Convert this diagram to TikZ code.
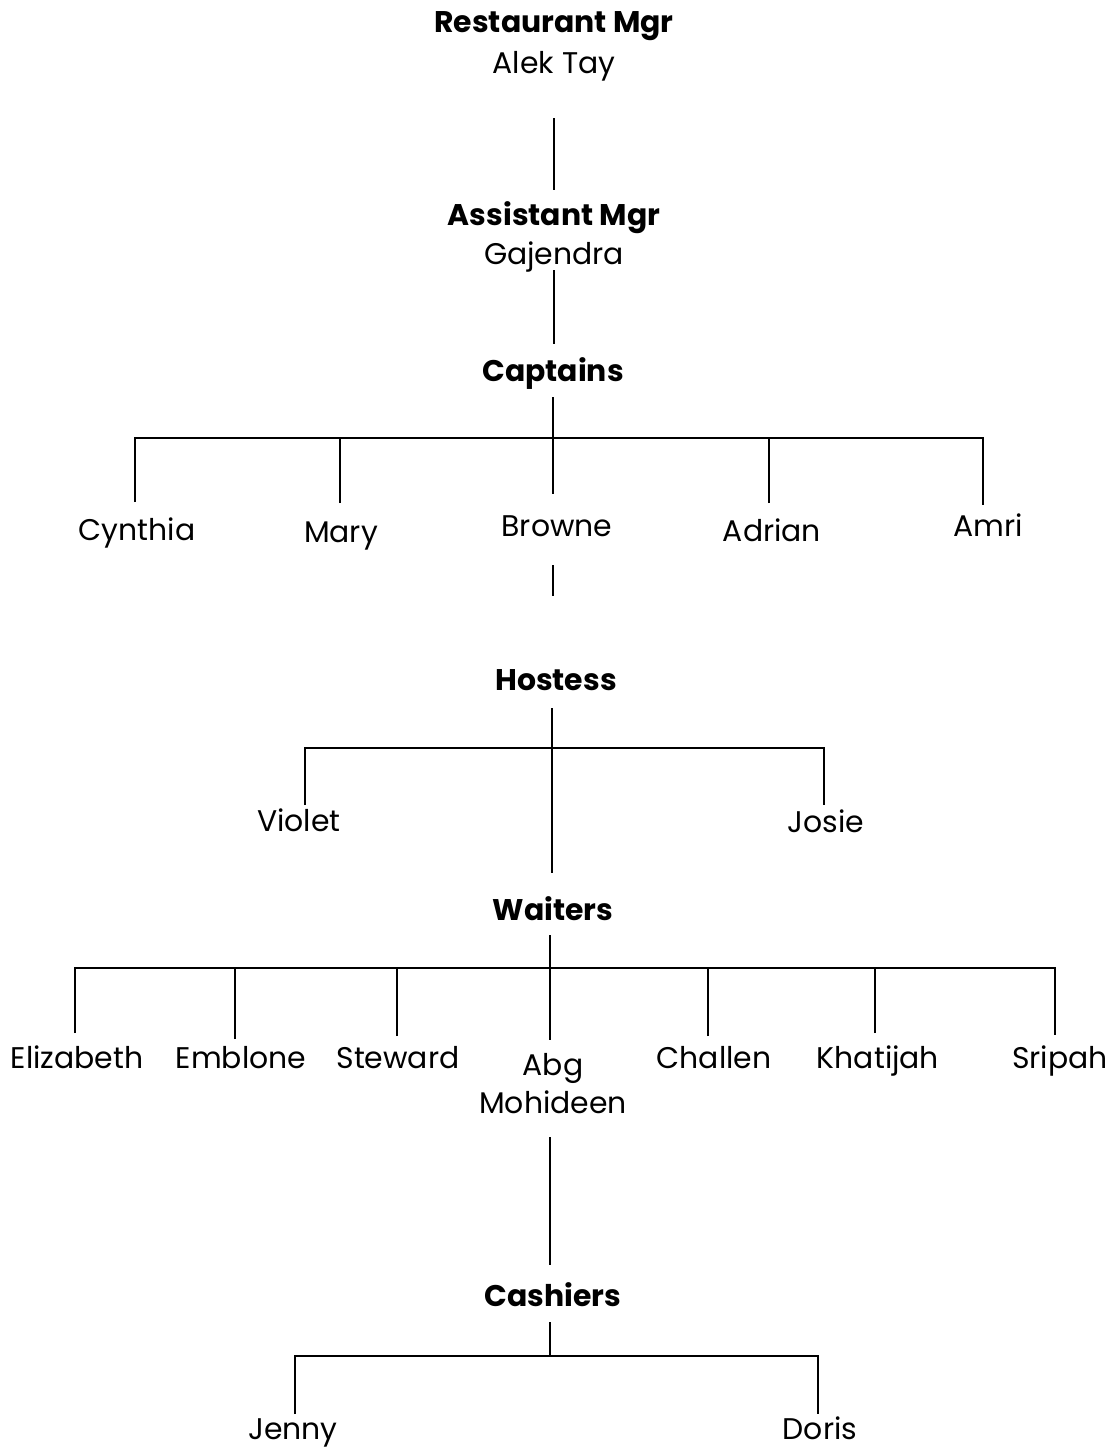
\documentclass[tikz,border=0pt]{standalone}
\usepackage{fontspec}
\setmainfont{Poppins}
\usetikzlibrary{calc}

\begin{document}
\begin{tikzpicture}[x=0.02cm, y=-0.02cm, line width=1.6pt,
  every node/.style={inner sep=0pt, anchor=base, font=\fontsize{17}{20}\selectfont},
  head/.style={font=\fontsize{17}{20}\selectfont\bfseries}]
\useasboundingbox (0,0) rectangle (1119,1447);

\node[head] (rmgr) at (554,32) {Restaurant Mgr};
\node (alek) at (554,73) {Alek Tay};
\node[head] (amgr) at (554,225) {Assistant Mgr};
\node (gaj) at (554,264) {Gajendra};
\node[head] (capt) at (553,381) {Captains};
\node (cynthia) at (137,540) {Cynthia};
\node (mary) at (341,542) {Mary};
\node (browne) at (557,536) {Browne};
\node (adrian) at (772,541) {Adrian};
\node (amri) at (988,536) {Amri};
\node[head] (host) at (556,690) {Hostess};
\node (violet) at (299,831) {Violet};
\node (josie) at (826,832) {Josie};
\node[head] (wait) at (553,920) {Waiters};
\node (eliz) at (77,1068) {Elizabeth};
\node (emb) at (241,1068) {Emblone};
\node (stew) at (398,1068) {Steward};
\node (abg) at (553,1075) {Abg};
\node (moh) at (553,1113) {Mohideen};
\node (chal) at (714,1068) {Challen};
\node (khat) at (878,1068) {Khatijah};
\node (srip) at (1060,1068) {Sripah};
\node[head] (cash) at (553,1306) {Cashiers};
\node (jenny) at (293,1439) {Jenny};
\node (doris) at (820,1439) {Doris};

\coordinate (captbar) at (553,438);
\coordinate (hostbar) at (552,748);
\coordinate (waitbar) at (550,968);
\coordinate (cashbar) at (550,1356);

% managers
\draw ($(alek.base)+(0,45)$) -- ($(amgr.base)+(0,-35)$);
\draw ($(gaj.base)+(0,6)$) -- ($(capt.base)+(1,-37)$);

% captains
\draw ($(capt.base)+(0,16)$) -- ($(browne.base)+(-4,-42)$);
\draw ($(cynthia.base)+(-2,-38)$) |- (captbar) -| ($(amri.base)+(-5,-31)$);
\draw ($(mary.base)+(-1,-39)$) |- (captbar);
\draw ($(adrian.base)+(-3,-38)$) |- (captbar);
\draw ($(browne.base)+(-4,29)$) -- ($(host.base)+(-3,-94)$);

% hostess
\draw ($(host.base)+(-4,18)$) -- ($(wait.base)+(-1,-47)$);
\draw ($(violet.base)+(6,-26)$) |- (hostbar) -| ($(josie.base)+(-2,-27)$);

% waiters
\draw ($(wait.base)+(-3,15)$) -- ($(abg.base)+(-3,-35)$);
\draw ($(eliz.base)+(-2,-35)$) |- (waitbar) -| ($(srip.base)+(-5,-33)$);
\draw ($(emb.base)+(-6,-29)$) |- (waitbar);
\draw ($(stew.base)+(-1,-32)$) |- (waitbar);
\draw ($(chal.base)+(-6,-32)$) |- (waitbar);
\draw ($(khat.base)+(-3,-35)$) |- (waitbar);
\draw ($(moh.base)+(-3,24)$) -- ($(cash.base)+(-3,-41)$);

% cashiers
\draw ($(cash.base)+(-3,16)$) -- (cashbar);
\draw ($(jenny.base)+(2,-25)$) |- (cashbar) -| ($(doris.base)+(-2,-25)$);
\end{tikzpicture}
\end{document}
